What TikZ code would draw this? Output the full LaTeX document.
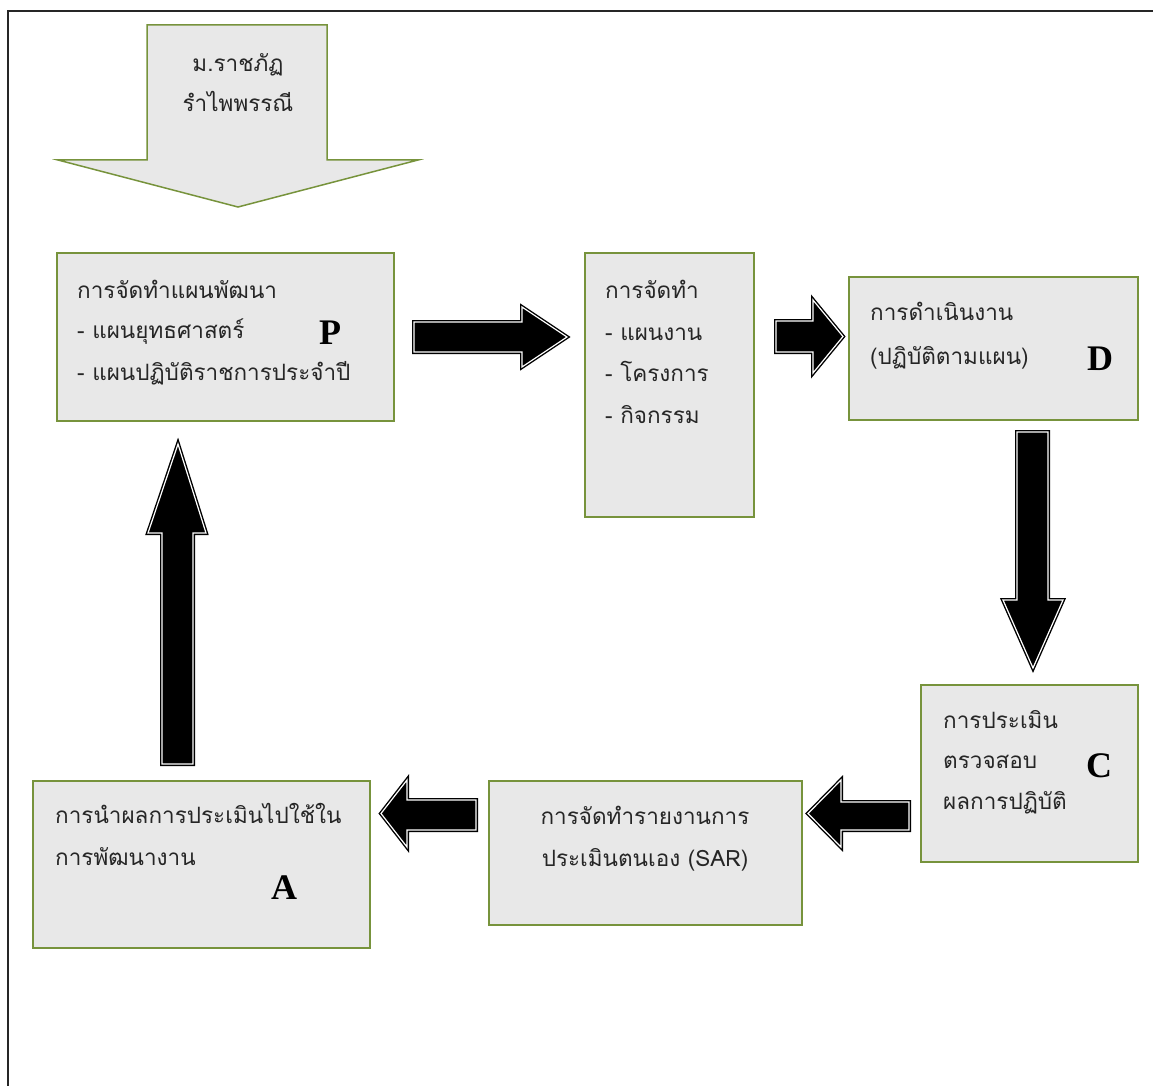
\documentclass[tikz,border=0pt]{standalone}
\usepackage{fontspec}
\newfontfamily\thai[Script=Thai]{Loma}
\newfontfamily\bigserif{Liberation Serif}
\definecolor{boxgreen}{HTML}{77933C}
\definecolor{boxfill}{HTML}{E8E8E8}
\begin{document}
\begin{tikzpicture}[x=1pt,y=-1pt,
  box/.style={draw=boxgreen, fill=boxfill, line width=2pt, inner sep=0pt},
  txt/.style={font=\thai\fontsize{22.5}{27}\selectfont, anchor=base west, inner sep=0pt, text=black!85},
  ctxt/.style={txt, anchor=base},
  letter/.style={font=\bigserif\bfseries\fontsize{36}{40}\selectfont, inner sep=0pt},
  fat/.style={fill=black, draw=black, double=white, double distance=1.2pt, line width=1.4pt, line join=miter},
  bigarrow/.style={fill=boxfill, draw=boxgreen, line width=1.5pt}]
\useasboundingbox (0,0) rectangle (1153,1086);
% frame
\draw[line width=2pt, black!85] (8,1086) -- (8,11) -- (1153,11);

% top block arrow
\draw[bigarrow] (147,25) -- (327,25) -- (327,160) -- (418,160) -- (238,207) -- (58,160) -- (147,160) -- cycle;
\node[ctxt] (u1) at (238,72) {ม.ราชภัฏ};
\node[ctxt] (u2) at (238,112) {รำไพพรรณี};

% boxes
\node[box, minimum width=337pt, minimum height=168pt] (P) at (225.5,337) {};
\node[box, minimum width=169pt, minimum height=264pt] (W) at (669.5,385) {};
\node[box, minimum width=289pt, minimum height=143pt] (D) at (993.5,348.5) {};
\node[box, minimum width=217pt, minimum height=177pt] (C) at (1029.5,773.5) {};
\node[box, minimum width=313pt, minimum height=144pt] (S) at (645.5,853) {};
\node[box, minimum width=337pt, minimum height=167pt] (A) at (201.5,864.5) {};

% P text
\node[txt] (p1) at (77,298) {การจัดทำแผนพัฒนา};
\node[txt] (p2) at (77,338) {- แผนยุทธศาสตร์};
\node[txt] (p3) at (77,380) {- แผนปฏิบัติราชการประจำปี};
\node[letter] (pl) at (330,333) {P};

% W text
\node[txt] (w1) at (605,298) {การจัดทำ};
\node[txt] (w2) at (605,340) {- แผนงาน};
\node[txt] (w3) at (605,381) {- โครงการ};
\node[txt] (w4) at (605,423) {- กิจกรรม};

% D text
\node[txt] (d1) at (870,320) {การดำเนินงาน};
\node[txt] (d2) at (870,364) {(ปฏิบัติตามแผน)};
\node[letter] (dl) at (1100,359) {D};

% C text
\node[txt] (c1) at (943,728) {การประเมิน};
\node[txt] (c2) at (943,768) {ตรวจสอบ};
\node[txt] (c3) at (943,809) {ผลการปฏิบัติ};
\node[letter] (cl) at (1099,766) {C};

% S text
\node[ctxt] (s1) at (645,824) {การจัดทำรายงานการ};
\node[ctxt] (s2) at (645,866) {ประเมินตนเอง (SAR)};

% A text
\node[txt] (a1) at (55,823) {การนำผลการประเมินไปใช้ใน};
\node[txt] (a2) at (55,865) {การพัฒนางาน};
\node[letter] (al) at (284,888) {A};

% fat arrows
% P -> W
\draw[fat] (414,322) -- (522,322) -- (522,307) -- (567,337) -- (522,367) -- (522,352) -- (414,352) -- cycle;
% W -> D
\draw[fat] (776,321) -- (813,321) -- (813,300) -- (843,336.5) -- (813,373) -- (813,352) -- (776,352) -- cycle;
% D -> C
\draw[fat] (1017,432) -- (1048,432) -- (1048,600) -- (1063,600) -- (1033,668) -- (1003,600) -- (1017,600) -- cycle;
% C -> S
\draw[fat] (909,802) -- (841,802) -- (841,780) -- (808,813.5) -- (841,847) -- (841,830) -- (909,830) -- cycle;
% S -> A
\draw[fat] (476,800) -- (407,800) -- (407,780) -- (381,813.5) -- (407,847) -- (407,830) -- (476,830) -- cycle;
% A -> P
\draw[fat] (162,764) -- (162,533) -- (148,533) -- (178,444) -- (206,533) -- (193,533) -- (193,764) -- cycle;
\end{tikzpicture}
\end{document}
